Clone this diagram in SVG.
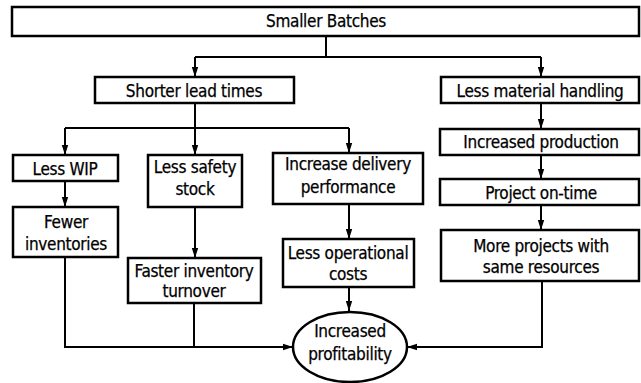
<svg xmlns="http://www.w3.org/2000/svg" width="641" height="383" viewBox="0 0 641 383">
<defs>
<marker id="arr" markerUnits="userSpaceOnUse" markerWidth="10" markerHeight="8" refX="10" refY="4" orient="auto">
<path d="M0,0.8 L10,4 L0,7.2 z" fill="#000"/>
</marker>
<style>
.box{fill:#fff;stroke:#000;stroke-width:2.5}
.t{font-family:'DejaVu Sans Condensed','DejaVu Sans',sans-serif;font-stretch:condensed;font-size:17px;letter-spacing:-0.3px;fill:#000;stroke:#000;stroke-width:0.25;text-anchor:middle}
.c{fill:none;stroke:#000;stroke-width:2}
.a{fill:none;stroke:#000;stroke-width:2;marker-end:url(#arr)}
</style>
</defs>
<rect width="641" height="383" fill="#fff"/>
<g id="connectors">
<path class="c" d="M326,36 V57"/>
<path class="c" d="M195,57 H541"/>
<path class="a" d="M195,57 V77"/>
<path class="a" d="M541,57 V77"/>
<path class="a" d="M541,103 V129"/>
<path class="c" d="M195,103 V128"/>
<path class="c" d="M65,128 H349"/>
<path class="a" d="M65,128 V155"/>
<path class="a" d="M195,128 V155"/>
<path class="a" d="M349,128 V153"/>
<path class="a" d="M65,181 V207"/>
<path class="a" d="M195,207 V258"/>
<path class="a" d="M349,204 V239"/>
<path class="a" d="M349,287 V311"/>
<path class="a" d="M65,257 V347 H293"/>
<path class="c" d="M194,303 V347"/>
<path class="a" d="M542,281 V347 H407"/>
<path class="a" d="M541,155 V179"/>
<path class="a" d="M541,205 V230"/>
</g>
<g id="n-smaller-batches"><rect class="box" x="12" y="7" width="627" height="29"/><text class="t" x="326" y="27">Smaller Batches</text></g>
<g id="n-shorter-lead"><rect class="box" x="95" y="77" width="199" height="26"/><text class="t" x="194" y="97">Shorter lead times</text></g>
<g id="n-less-material"><rect class="box" x="441" y="77" width="198" height="26"/><text class="t" x="540" y="97">Less material handling</text></g>
<g id="n-less-wip"><rect class="box" x="13" y="155" width="105" height="26"/><text class="t" x="65" y="175">Less WIP</text></g>
<g id="n-less-safety"><rect class="box" x="148" y="155" width="94" height="52"/><text class="t" x="195" y="173">Less safety</text><text class="t" x="195" y="195">stock</text></g>
<g id="n-increase-delivery"><rect class="box" x="273" y="153" width="150" height="51"/><text class="t" x="348" y="170">Increase delivery</text><text class="t" x="348" y="193">performance</text></g>
<g id="n-fewer-inv"><rect class="box" x="13" y="207" width="105" height="50"/><text class="t" x="66" y="228">Fewer</text><text class="t" x="66" y="250">inventories</text></g>
<g id="n-faster-inv"><rect class="box" x="128" y="258" width="133" height="45"/><text class="t" x="194" y="277">Faster inventory</text><text class="t" x="194" y="297">turnover</text></g>
<g id="n-less-op"><rect class="box" x="283" y="239" width="131" height="48"/><text class="t" x="348" y="259">Less operational</text><text class="t" x="348" y="280">costs</text></g>
<g id="n-inc-prod"><rect class="box" x="440" y="129" width="199" height="26"/><text class="t" x="541" y="148">Increased production</text></g>
<g id="n-project"><rect class="box" x="440" y="179" width="199" height="26"/><text class="t" x="541" y="199">Project on-time</text></g>
<g id="n-more-projects"><rect class="box" x="441" y="230" width="198" height="51"/><text class="t" x="541" y="252">More projects with</text><text class="t" x="541" y="273">same resources</text></g>
<g id="n-profit"><ellipse class="box" cx="350" cy="347" rx="57" ry="35"/><text class="t" x="350" y="337">Increased</text><text class="t" x="350" y="360">profitability</text></g>
</svg>
